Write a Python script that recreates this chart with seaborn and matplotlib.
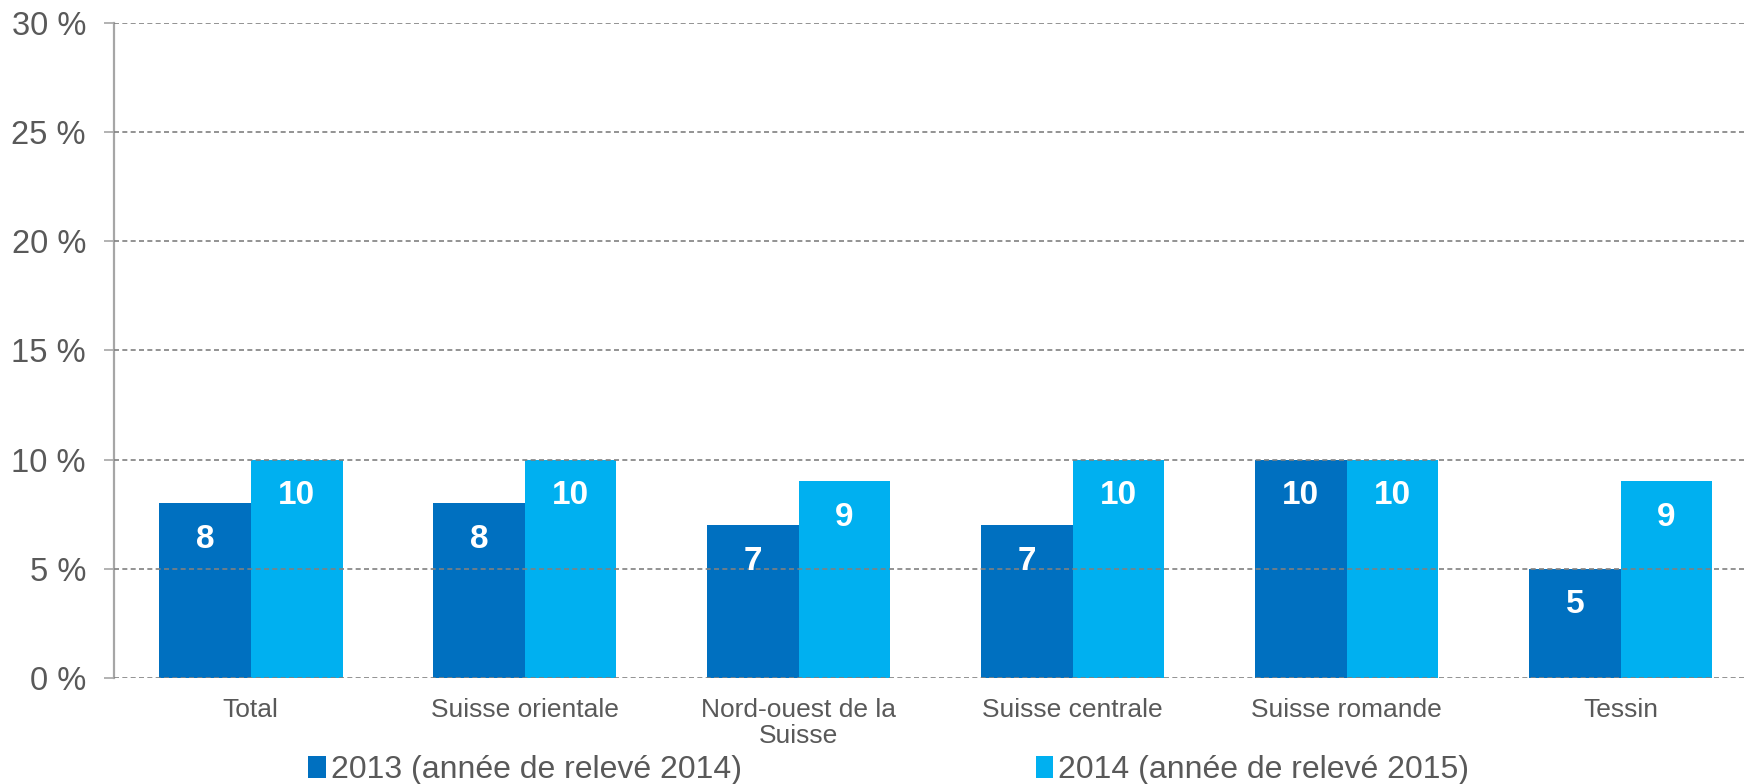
import pandas as pd
import matplotlib
matplotlib.use('Agg')
import matplotlib.pyplot as plt
import seaborn as sns

# data (percent)
regions = ['Total', 'Suisse orientale', 'Nord-ouest de la\nSuisse',
           'Suisse centrale', 'Suisse romande', 'Tessin']
years = ['2013 (année de relevé 2014)', '2014 (année de relevé 2015)']
values_2013 = [8, 8, 7, 7, 10, 5]
values_2014 = [10, 10, 9, 10, 10, 9]
colors = ['#0070C0', '#00B0F0']

df = pd.DataFrame({
    'region': regions * 2,
    'year': [years[0]] * len(regions) + [years[1]] * len(regions),
    'value': values_2013 + values_2014,
})

sns.set_style('white')
plt.rcParams['font.family'] = ['Liberation Sans', 'DejaVu Sans']
text_color = '#595959'

fig = plt.figure(figsize=(17.47, 7.84), dpi=100)
ax = fig.add_axes([0.0651, 0.1352, 0.941, 0.8355])

sns.barplot(data=df, x='region', y='value', hue='year', palette=colors,
            width=0.67, saturation=1, linewidth=0, ax=ax, legend=True)

# value labels inside the top of each bar
for cont in ax.containers:
    ax.bar_label(cont, labels=[f'{v:.0f}' for v in cont.datavalues],
                 padding=-37, color='white', fontsize=24, fontweight='bold')

ax.set_ylim(0, 30)
ax.set_yticks(range(0, 31, 5))
ax.set_yticklabels([f'{v} %' for v in range(0, 31, 5)])
ax.set_xlabel('')
ax.set_ylabel('')

ax.yaxis.grid(True, color='#808080', linestyle=(0, (3, 2)), linewidth=1.2)
ax.set_axisbelow(False)
for b in ax.patches:
    b.set_zorder(2)
ax.xaxis.grid(False)

for side in ['top', 'right', 'bottom']:
    ax.spines[side].set_visible(False)
ax.spines['left'].set_color('#a6a6a6')
ax.spines['left'].set_linewidth(1.6)

ax.tick_params(axis='y', length=7, width=1.2, color='#a6a6a6', pad=13,
               labelsize=23.5, labelcolor=text_color, left=True)
ax.tick_params(axis='x', length=0, pad=14.5, labelsize=19, labelcolor=text_color)
for t in ax.get_xticklabels():
    t.set_linespacing(1.1)

handles, labels = ax.get_legend_handles_labels()
ax.get_legend().remove()
fig.legend(handles, labels, loc='center left', bbox_to_anchor=(0.1763, 0.018),
           ncol=2, frameon=False, fontsize=23, labelcolor=text_color,
           handlelength=0.55, handleheight=0.7, handletextpad=0.16,
           columnspacing=9.2, borderpad=0, borderaxespad=0)

fig.savefig('out.png', dpi=100)
